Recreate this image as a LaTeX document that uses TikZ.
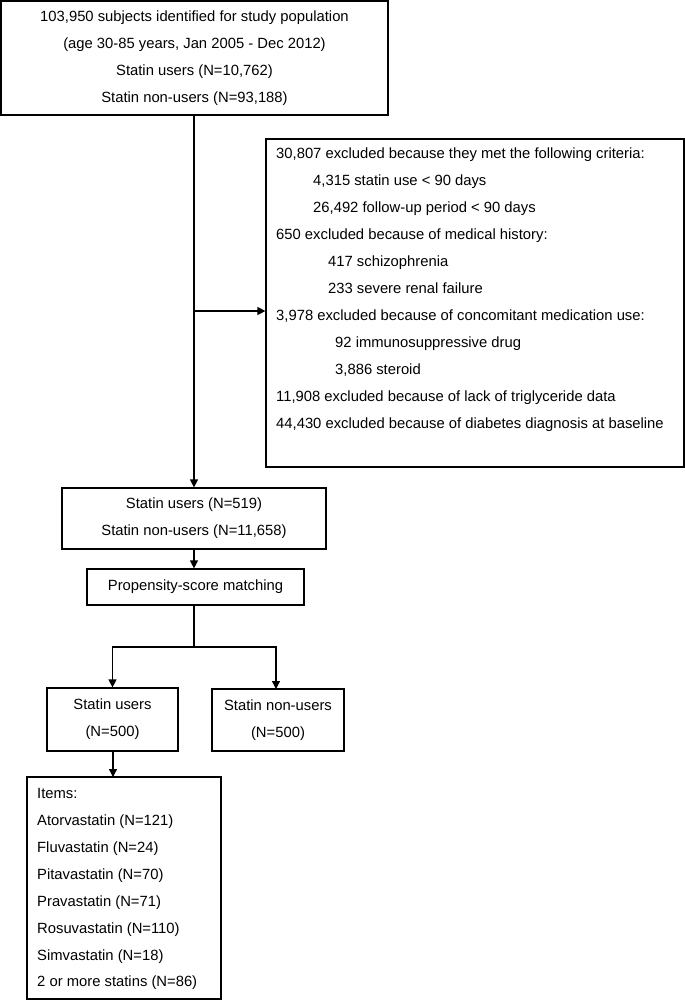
\documentclass[tikz,border=0pt]{standalone}
\usepackage{fontspec}
\setmainfont{Liberation Sans}
\usetikzlibrary{arrows.meta}
\begin{document}
\begin{tikzpicture}[x=1pt,y=-1pt,
  box/.style={draw, line width=1.2pt, inner sep=0pt, align=center, font=\fontsize{14.8}{27}\selectfont},
  txt/.style={anchor=base west, inner sep=0pt, font=\fontsize{14.8}{18}\selectfont},
  ln/.style={line width=1.2pt},
  arr/.style={line width=1.2pt, -{Triangle[length=8pt,width=8pt]}}]
\useasboundingbox (0,0) rectangle (685,1002);
% boxes
\node[box, minimum width=387pt, minimum height=114pt] (top) at (194.5,58)
  {103,950 subjects identified for study population\\(age 30-85 years, Jan 2005 - Dec 2012)\\Statin users (N=10,762)\\Statin non-users (N=93,188)};
\node[box, minimum width=418pt, minimum height=328pt] (excl) at (475,303) {};
\node[box, minimum width=264pt, minimum height=61pt] (mid) at (194,518.5)
  {Statin users (N=519)\\Statin non-users (N=11,658)};
\node[box, minimum width=217pt, minimum height=36pt] (psm) at (195.5,587)
  {Propensity-score matching};
\node[box, minimum width=131pt, minimum height=63pt] (users) at (112.5,719.5)
  {Statin users\\(N=500)};
\node[box, minimum width=132pt, minimum height=62pt] (nonusers) at (278,720)
  {Statin non-users\\(N=500)};
\node[box, minimum width=194pt, minimum height=222pt] (items) at (124,888) {};
% exclusion text
\node[txt] (e1) at (276,158.6) {30,807 excluded because they met the following criteria:};
\node[txt] (e2) at (313,185.6) {4,315 statin use < 90 days};
\node[txt] (e3) at (313,212.5) {26,492 follow-up period < 90 days};
\node[txt] (e4) at (276,239.5) {650 excluded because of medical history:};
\node[txt] (e5) at (328,266.5) {417 schizophrenia};
\node[txt] (e6) at (328,293.5) {233 severe renal failure};
\node[txt] (e7) at (276,320.4) {3,978 excluded because of concomitant medication use:};
\node[txt] (e8) at (335,347.4) {92 immunosuppressive drug};
\node[txt] (e9) at (335,374.4) {3,886 steroid};
\node[txt] (e10) at (276,401.3) {11,908 excluded because of lack of triglyceride data};
\node[txt] (e11) at (276,428.3) {44,430 excluded because of diabetes diagnosis at baseline};
% items text
\node[txt] (i1) at (37,798.6) {Items:};
\node[txt] (i2) at (37,825.5) {Atorvastatin (N=121)};
\node[txt] (i3) at (37,852.4) {Fluvastatin (N=24)};
\node[txt] (i4) at (37,879.3) {Pitavastatin (N=70)};
\node[txt] (i5) at (37,906.2) {Pravastatin (N=71)};
\node[txt] (i6) at (37,933.1) {Rosuvastatin (N=110)};
\node[txt] (i7) at (37,960.0) {Simvastatin (N=18)};
\node[txt] (i8) at (37,986.9) {2 or more statins (N=86)};
% connectors
\coordinate (branch) at (194,311);
\coordinate (split) at (194,647);
\draw[arr] (top.south -| mid.north) -- (mid.north);
\draw[arr] (branch) -- (branch -| excl.west);
\draw[arr] (mid.south) -- (mid.south |- psm.north);
\draw[ln] (split |- psm.south) -- (split);
\draw[arr] (split) -| (users.north);
\draw[arr] (split) -| (276,689);
\draw[arr] (113,751) -- (113,777);
\end{tikzpicture}
\end{document}
